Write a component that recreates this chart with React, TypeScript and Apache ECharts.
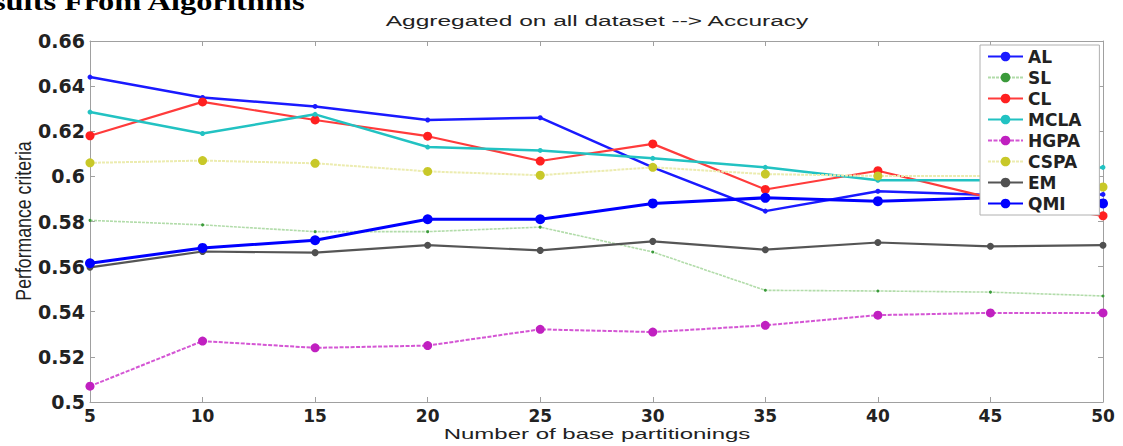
import React, { useEffect, useRef } from "react";
import * as echarts from "echarts";

const partitions = [5, 10, 15, 20, 25, 30, 35, 40, 45, 50];
const AL = [0.644, 0.635, 0.631, 0.625, 0.626, 0.604, 0.5846, 0.5934, 0.5917, 0.592];
const SL = [0.5805, 0.5785, 0.5755, 0.5755, 0.5775, 0.5665, 0.5495, 0.5492, 0.5487, 0.547];
const CL = [0.618, 0.633, 0.625, 0.6178, 0.6068, 0.6144, 0.5942, 0.6025, 0.5905, 0.5825];
const MCLA = [0.6285, 0.619, 0.6275, 0.613, 0.6115, 0.608, 0.604, 0.5983, 0.5983, 0.604];
const HGPA = [0.507, 0.527, 0.524, 0.525, 0.5322, 0.531, 0.534, 0.5385, 0.5395, 0.5395];
const CSPA = [0.606, 0.607, 0.6058, 0.6022, 0.6005, 0.604, 0.601, 0.6002, 0.6002, 0.5953];
const EM = [0.5597, 0.5667, 0.5662, 0.5695, 0.5672, 0.5712, 0.5675, 0.5707, 0.569, 0.5695];
const QMI = [0.5615, 0.5683, 0.5717, 0.581, 0.581, 0.588, 0.5905, 0.589, 0.5905, 0.588];

const yTicks = { min: 0.5, max: 0.66, interval: 0.02 };
const xTicks = { min: 5, max: 50, interval: 5 };

const headerText = "Results From Algorithms";
const titleText = "Aggregated on all dataset --> Accuracy";
const xName = "Number of base partitionings";
const yName = "Performance criteria";

const pairs = (vals: number[]) => partitions.map((p, i) => [p, vals[i]]);

export default function App() {
  const ref = useRef<HTMLDivElement>(null);
  useEffect(() => {
    if (!ref.current) return;
    const chart = echarts.init(ref.current, null, { renderer: "svg" });
    const axisGray = "#a0a0a0";
    const labelFont = {
      fontFamily: "DejaVu Sans",
      fontWeight: "bold" as const,
      color: "#222",
    };
    const mk = (
      name: string,
      vals: number[],
      lineColor: string,
      width: number,
      type: any,
      symColor: string,
      symSize: number
    ) => ({
      name,
      type: "line",
      data: pairs(vals),
      symbol: "circle",
      symbolSize: symSize,
      lineStyle: { color: lineColor, width, type },
      itemStyle: { color: symColor },
      showSymbol: true,
      z: 2,
    });
    chart.setOption({
      animation: false,
      backgroundColor: "#fff",
      grid: { left: 90, right: 20, top: 41, bottom: 44, containLabel: false },
      legend: {
        orient: "vertical",
        left: 980,
        top: 45,
        itemWidth: 35,
        itemHeight: 12,
        itemGap: 4,
        padding: [3, 18, 3, 7],
        backgroundColor: "#fff",
        borderColor: "#b0b0b0",
        borderWidth: 1,
        borderRadius: 0,
        textStyle: {
          fontFamily: "DejaVu Sans",
          fontWeight: "bold",
          fontSize: 17,
          color: "#222",
        },
        data: ["AL", "SL", "CL", "MCLA", "HGPA", "CSPA", "EM", "QMI"],
      },
      xAxis: [
        {
          type: "value",
          position: "bottom",
          ...xTicks,
          axisLine: { show: true, lineStyle: { color: axisGray, width: 1 } },
          axisTick: { show: true, inside: true, length: 5, lineStyle: { color: axisGray } },
          axisLabel: { ...labelFont, fontSize: 17, margin: 5 },
          splitLine: { show: false },
        },
        {
          type: "value",
          position: "top",
          ...xTicks,
          axisLine: { show: true, lineStyle: { color: axisGray, width: 1 } },
          axisTick: { show: true, inside: true, length: 5, lineStyle: { color: axisGray } },
          axisLabel: { show: false },
          splitLine: { show: false },
        },
      ],
      yAxis: [
        {
          type: "value",
          position: "left",
          ...yTicks,
          axisLine: { show: true, lineStyle: { color: axisGray, width: 1 } },
          axisTick: { show: true, inside: true, length: 5, lineStyle: { color: axisGray } },
          axisLabel: { ...labelFont, fontSize: 19, margin: 5 },
          splitLine: { show: false },
        },
        {
          type: "value",
          position: "right",
          ...yTicks,
          axisLine: { show: true, lineStyle: { color: axisGray, width: 1 } },
          axisTick: { show: true, inside: true, length: 5, lineStyle: { color: axisGray } },
          axisLabel: { show: false },
          splitLine: { show: false },
        },
      ],
      series: [
        mk("AL", AL, "#1a1aff", 2.5, "solid", "#1a1aff", 5),
        mk("SL", SL, "#b2dcaa", 1.6, [3, 1], "#3a9a3a", 3),
        mk("CL", CL, "#ff3b3b", 2.2, "solid", "#ff2020", 9),
        mk("MCLA", MCLA, "#22c2c2", 2.5, "solid", "#22c2c2", 5),
        mk("HGPA", HGPA, "#d455d4", 2, [4, 1.5], "#c020c0", 9),
        mk("CSPA", CSPA, "#ecec b0".replace(" ", ""), 2, [3, 1], "#c8c828", 9),
        mk("EM", EM, "#555555", 2.2, "solid", "#505050", 7),
        mk("QMI", QMI, "#0000ff", 3, "solid", "#0000ff", 10),
      ],
      graphic: [
        {
          type: "text",
          x: -45,
          y: 1,
          scaleX: 1.25,
          style: {
            text: headerText,
            fontFamily: "Liberation Serif",
            fontWeight: "bold",
            fontSize: 26,
            fill: "#000",
            align: "left",
            verticalAlign: "middle",
          },
        },
        {
          type: "text",
          x: 597,
          y: 20.5,
          scaleX: 1.58,
          style: {
            text: titleText,
            fontFamily: "Liberation Sans",
            fontSize: 15.5,
            fill: "#222",
            align: "center",
            verticalAlign: "middle",
          },
        },
        {
          type: "text",
          x: 597,
          y: 434,
          scaleX: 1.6,
          style: {
            text: xName,
            fontFamily: "Liberation Sans",
            fontSize: 15,
            fill: "#222",
            align: "center",
            verticalAlign: "middle",
          },
        },
        {
          type: "text",
          x: 23,
          y: 221,
          rotation: Math.PI / 2,
          scaleX: 1.18,
          scaleY: 1.5,
          style: {
            text: yName,
            fontFamily: "Liberation Sans",
            fontSize: 15,
            fill: "#222",
            align: "center",
            verticalAlign: "middle",
          },
        },
      ],
    });
    return () => chart.dispose();
  }, []);
  return (
    <div
      ref={ref}
      style={{ position: "absolute", left: 0, top: 0, width: 1123, height: 446 }}
    />
  );
}
